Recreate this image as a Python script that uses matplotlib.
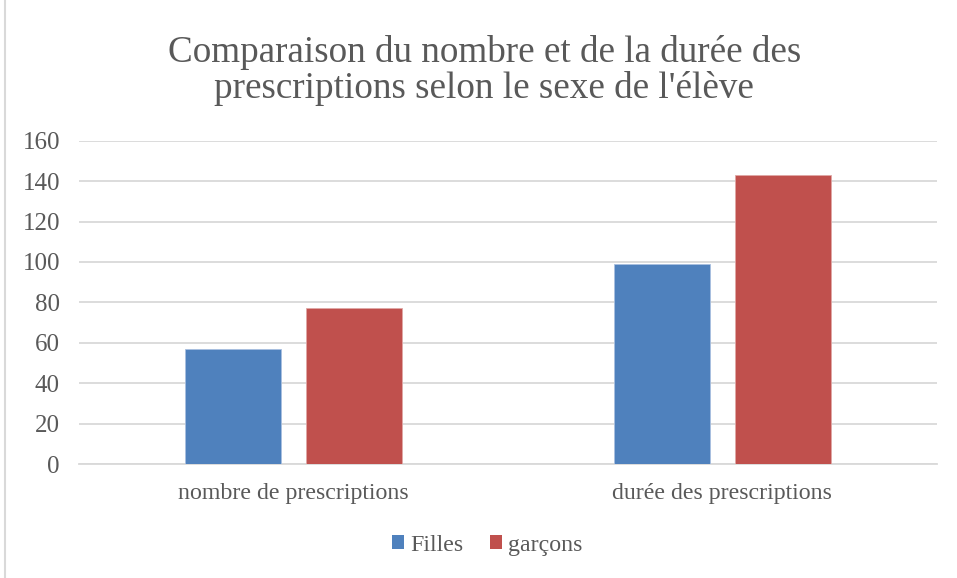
import matplotlib
matplotlib.use("Agg")
import matplotlib.pyplot as plt
import numpy as np
from matplotlib.lines import Line2D
from matplotlib.patches import Patch

categories = ["nombre de prescriptions", "durée des prescriptions"]
series_names = ["Filles", "garçons"]
filles = [57, 99]
garcons = [77, 143]
yticks = [0, 20, 40, 60, 80, 100, 120, 140, 160]

title = "Comparaison du nombre et de la durée des\nprescriptions selon le sexe de l'élève"

plt.rcParams['font.family'] = ['Liberation Serif', 'DejaVu Serif']
txt = '#595959'
grid = '#D9D9D9'
blue = '#4F81BD'
red = '#C0504D'

fig = plt.figure(figsize=(9.57, 5.78), dpi=100)
ax = fig.add_axes([0.0829, 0.1972, 0.9788 - 0.0829, 0.7566 - 0.1972])

x = np.arange(len(categories))
w = 0.224
off = 0.141
ax.bar(x - off, filles, width=w, color=blue, edgecolor='#A9C0E0', linewidth=0.6, zorder=3, label=series_names[0])
ax.bar(x + off, garcons, width=w, color=red, edgecolor='#E0A8A6', linewidth=0.6, zorder=3, label=series_names[1])

ax.set_xlim(-0.5, 1.5)
ax.set_ylim(0, 160)
ax.set_yticks(yticks)
ax.set_yticklabels([str(t) for t in yticks])
ax.set_xticks(x)
ax.set_xticklabels(categories)
ax.yaxis.grid(True, color=grid, linewidth=1.3, zorder=0)
ax.set_axisbelow(True)
for s in ['top', 'right', 'left']:
    ax.spines[s].set_visible(False)
ax.spines['bottom'].set_color(grid)
ax.spines['bottom'].set_linewidth(1.3)
ax.tick_params(axis='both', length=0, colors=txt)
ax.tick_params(axis='y', pad=14, labelsize=18)
ax.tick_params(axis='x', pad=14, labelsize=17.2)

fig.text(0.506, 0.878, title, ha='center', va='center', fontsize=26.7, color=txt, linespacing=1.05)

handles = [Patch(facecolor=blue, edgecolor='none'), Patch(facecolor=red, edgecolor='none')]
leg = fig.legend(handles, series_names, loc='center', bbox_to_anchor=(0.509, 0.057), ncol=2,
                 frameon=False, fontsize=17.2, handlelength=0.5, handleheight=0.5,
                 handletextpad=0.25, columnspacing=1.1, labelcolor=txt)

fig.add_artist(Line2D([5/957, 5/957], [0, 1], color='#D9D9D9', linewidth=1.5, transform=fig.transFigure))

fig.savefig('out.png', dpi=100)
